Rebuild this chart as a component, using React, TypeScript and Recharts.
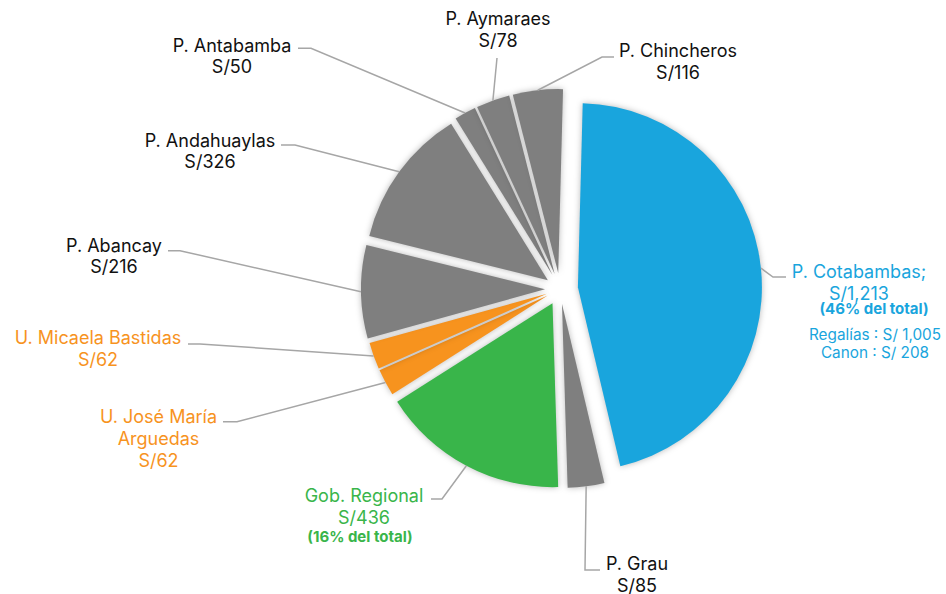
import React from 'react';
import { PieChart, Pie, Cell } from 'recharts';

// ---------- data ----------
const names = [
  'P. Cotabambas;',
  'P. Grau',
  'Gob. Regional',
  'U. José María|Arguedas',
  'U. Micaela Bastidas',
  'P. Abancay',
  'P. Andahuaylas',
  'P. Antabamba',
  'P. Aymaraes',
  'P. Chincheros',
];
const values = [1213, 85, 436, 62, 62, 216, 326, 50, 78, 116];
const colors = [
  '#19A5DD', '#7F7F7F', '#39B54A', '#F7931E', '#F7931E',
  '#7F7F7F', '#7F7F7F', '#7F7F7F', '#7F7F7F', '#7F7F7F',
];
const textColors = [
  '#19A5DD', '#111111', '#39B54A', '#F7931E', '#F7931E',
  '#111111', '#111111', '#111111', '#111111', '#111111',
];
const cotabambasParts = ['Regalías', 'Canon'];
const cotabambasPartValues = [1005, 208];

// ---------- layout ----------
const CX = 560;
const CY = 289;
const R = 184;
const START = 88.5;
const explode = [18, 15, 16, 14, 14, 15, 15, 16, 16, 16];
type Pt = [number, number];
const labelPos: { x: number; y: number; leader: Pt[]; pct?: Pt }[] = [
  { x: 859, y: 278, leader: [[786, 277], [773, 277]], pct: [874, 314] },
  { x: 637, y: 570, leader: [[600, 570], [585, 570]] },
  { x: 364, y: 502, leader: [[431, 499], [442, 499]], pct: [360, 542] },
  { x: 158.5, y: 423.3, leader: [[223, 421.7], [237, 421.7]] },
  { x: 98, y: 344, leader: [[188, 344], [200, 344]] },
  { x: 114, y: 251.7, leader: [[168, 250.7], [180, 250.7]] },
  { x: 210, y: 146.7, leader: [[281, 145], [295, 145]] },
  { x: 232, y: 51.7, leader: [[298, 48.3], [311, 48.3]] },
  { x: 498, y: 25, leader: [[497, 58]] },
  { x: 678, y: 57.3, leader: [[614, 57], [602, 57]] },
];
const LINE_GAP = 21.6;
const FONT = 'Inter, "Noto Sans", sans-serif';

const RAD = Math.PI / 180;
const total = values.reduce((a, b) => a + b, 0);
const data = names.map((n, i) => ({ name: n, value: values[i] }));
const midAngles: number[] = (() => {
  let cum = 0;
  return values.map((v) => {
    const m = START - ((cum + v / 2) / total) * 360;
    cum += v;
    return m;
  });
})();

const fmt = (v: number) => v.toLocaleString('en-US');

function makeLabel(k: number) {
  return (props: any) => {
    if (props.index !== k) return <g />;
    const { cx, cy, midAngle, outerRadius } = props;
    const ax = cx + outerRadius * Math.cos(-midAngle * RAD);
    const ay = cy + outerRadius * Math.sin(-midAngle * RAD);
    const lp = labelPos[k];
    const pts = [...lp.leader].reverse();
    const poly = [[ax, ay], ...pts].map((p) => p.join(',')).join(' ');
    const lines = [...names[k].split('|'), `S/${fmt(values[k])}`];
    const col = textColors[k];
    return (
      <g>
        <polyline points={poly} fill="none" stroke="#A6A6A6" strokeWidth={1.5} />
        <text x={lp.x} y={lp.y} textAnchor="middle" fontFamily={FONT} fontSize={18} fill={col}>
          {lines.map((t, i) => (
            <tspan key={i} x={lp.x} y={lp.y + i * LINE_GAP}>
              {t}
            </tspan>
          ))}
        </text>
        {lp.pct && (
          <text x={lp.pct[0]} y={lp.pct[1]} textAnchor="middle" fontFamily={FONT} fontSize={15} fontWeight={700} fill={col}>
            {`(${Math.round((values[k] / total) * 100)}% del total)`}
          </text>
        )}
        {k === 0 &&
          cotabambasParts.map((p, i) => (
            <text key={p} x={875} y={340 + i * 18.3} textAnchor="middle" fontFamily={FONT} fontSize={15.3} fill={col}>
              {`${p} : S/ ${fmt(cotabambasPartValues[i])}`}
            </text>
          ))}
      </g>
    );
  };
}

export default function App() {
  return (
    <div style={{ position: 'absolute', left: 0, top: 0, width: 946, height: 594, background: '#fff' }}>
      <style>{`.recharts-sector{filter:drop-shadow(0 0 3px rgba(0,0,0,0.28));}`}</style>
      <PieChart width={946} height={594} margin={{ top: 0, right: 0, bottom: 0, left: 0 }}>
        {values.map((_, k) => (
          <Pie
            key={k}
            data={data}
            dataKey="value"
            nameKey="name"
            cx={CX + explode[k] * Math.cos(midAngles[k] * RAD)}
            cy={CY - explode[k] * Math.sin(midAngles[k] * RAD)}
            outerRadius={R}
            innerRadius={0}
            startAngle={START}
            endAngle={START - 360}
            stroke="none"
            isAnimationActive={false}
            label={makeLabel(k)}
            labelLine={false}
          >
            {data.map((_, i) => (
              <Cell key={i} fill={i === k ? colors[i] : 'transparent'} stroke="none" />
            ))}
          </Pie>
        ))}
      </PieChart>
    </div>
  );
}
